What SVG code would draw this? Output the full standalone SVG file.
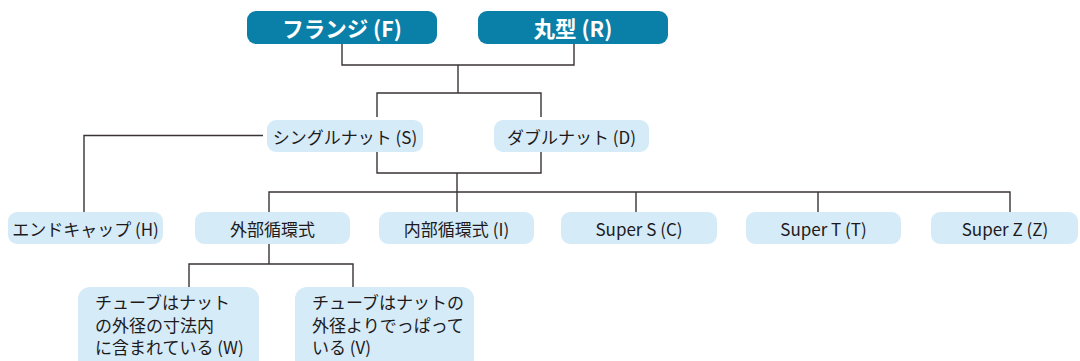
<svg xmlns="http://www.w3.org/2000/svg" width="1080" height="361" viewBox="0 0 1080 361">
<style>
.top{fill:#0A7FA8}
.nb{fill:#D5EBF8}
.tt{font-family:"Noto Sans CJK JP","Noto Sans",sans-serif;font-weight:bold;font-size:21.5px;fill:#FFFFFF;text-anchor:middle;dominant-baseline:central}
.t{font-family:"Noto Sans CJK JP","Noto Sans",sans-serif;font-size:17px;fill:#1E1A1B;text-anchor:middle;dominant-baseline:central}
.tl{font-family:"Noto Sans CJK JP","Noto Sans",sans-serif;font-size:17px;fill:#1E1A1B}
.c{fill:none;stroke:#3A3436;stroke-width:1.4}
</style>
<rect width="1080" height="361" fill="#FFFFFF"/>
<g id="connectors">
<path class="c" d="M342 44V65H574V44M458 65V93M377 117V93H541V117"/>
<path class="c" d="M263 135.5H84V212"/>
<path class="c" d="M377 152V173H541V152M457 173V212M269 212V192H1010V212M636 192V212M818 192V212"/>
<path class="c" d="M269 244V264M189 287V264H353V287"/>
</g>
<g id="flange"><rect class="top" x="247" y="11" width="190" height="33" rx="9"/><text class="tt" x="342" y="27.5">フランジ (F)</text></g>
<g id="round"><rect class="top" x="478" y="11" width="190" height="33" rx="9"/><text class="tt" x="573" y="27.5">丸型 (R)</text></g>
<g id="single"><rect class="nb" x="267" y="120" width="156" height="32" rx="9"/><text class="t" x="345" y="136">シングルナット (S)</text></g>
<g id="double"><rect class="nb" x="494" y="120" width="155" height="32" rx="9"/><text class="t" x="571.5" y="136">ダブルナット (D)</text></g>
<g id="endcap"><rect class="nb" x="8" y="212" width="155" height="32" rx="9"/><text class="t" x="85.5" y="228">エンドキャップ (H)</text></g>
<g id="external"><rect class="nb" x="195" y="212" width="155" height="32" rx="9"/><text class="t" x="272.5" y="228">外部循環式</text></g>
<g id="internal"><rect class="nb" x="379" y="212" width="155" height="32" rx="9"/><text class="t" x="456.5" y="228">内部循環式 (I)</text></g>
<g id="superS"><rect class="nb" x="561" y="212" width="156" height="32" rx="9"/><text class="t" x="639" y="228">Super S (C)</text></g>
<g id="superT"><rect class="nb" x="746" y="212" width="155" height="32" rx="9"/><text class="t" x="823.5" y="228">Super T (T)</text></g>
<g id="superZ"><rect class="nb" x="931" y="212" width="147" height="32" rx="9"/><text class="t" x="1005" y="228">Super Z (Z)</text></g>
<g id="w"><rect class="nb" x="78" y="287" width="181" height="84" rx="12"/><text class="tl" x="95" y="309">チューブはナット</text><text class="tl" x="95" y="331.5">の外径の寸法内</text><text class="tl" x="95" y="354">に含まれている (W)</text></g>
<g id="v"><rect class="nb" x="295" y="287" width="179" height="84" rx="12"/><text class="tl" x="312" y="309">チューブはナットの</text><text class="tl" x="312" y="331.5">外径よりでっぱって</text><text class="tl" x="312" y="354">いる (V)</text></g>
</svg>
